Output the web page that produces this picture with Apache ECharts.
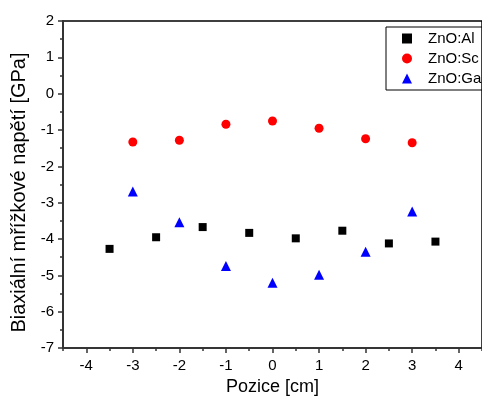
<!DOCTYPE html>
<html>
<head>
<meta charset="utf-8">
<script src="https://cdn.jsdelivr.net/npm/echarts@6/dist/echarts.min.js"></script>
<style>
html,body{margin:0;padding:0;background:#fff;}
#container{width:482px;height:401px;}
</style>
</head>
<body>
<div id="container"></div>
<script>
var posAl=[-3.5,-2.5,-1.5,-0.5,0.5,1.5,2.5,3.5];
var valAl=[-4.27,-3.95,-3.67,-3.83,-3.98,-3.77,-4.12,-4.07];
var posSc=[-3,-2,-1,0,1,2,3];
var valSc=[-1.33,-1.28,-0.84,-0.75,-0.95,-1.24,-1.35];
var posGa=[-3,-2,-1,0,1,2,3];
var valGa=[-2.69,-3.54,-4.74,-5.2,-4.98,-4.35,-3.24];
var names=['ZnO:Al','ZnO:Sc','ZnO:Ga'];
var xMajor=[-4,-3,-2,-1,0,1,2,3,4];
var xMinor=[-4.5,-3.5,-2.5,-1.5,-0.5,0.5,1.5,2.5,3.5,4.5];

function pairs(xs,ys){
	var out=[];
	for(var i=0;i<xs.length;++i){
		out.push([xs[i],ys[i]]);
	}
	return out;
}

var font='Liberation Sans, Arial, sans-serif';
var axisCol='#333';
var myChart=echarts.init(document.getElementById('container'),null,{renderer:'canvas'});
var option={
	animation:false,
	textStyle:{fontFamily:font},
	grid:{left:63,top:21,bottom:47,width:428,show:true,borderColor:'#000',borderWidth:1.5,backgroundColor:'transparent'},
	legend:{
		data:names,
		orient:'vertical',
		left:386,top:27,
		itemWidth:10,itemHeight:10,itemGap:5,
		padding:[4,40,4,16],
		borderColor:'#000',borderWidth:1,
		textStyle:{fontFamily:font,fontSize:15,color:'#000',padding:[0,0,0,11]}
	},
	xAxis:[{
		type:'value',min:-4.5,max:4.5,interval:0.5,position:'bottom',
		name:'Pozice [cm]',nameLocation:'middle',nameGap:29,
		nameTextStyle:{fontFamily:font,fontSize:18,color:'#000'},
		axisLine:{onZero:false,lineStyle:{color:axisCol,width:1.5}},
		axisTick:{inside:false,length:5,customValues:xMajor,lineStyle:{color:axisCol,width:1.5}},
		minorTick:{show:false},
		splitLine:{show:false},
		axisLabel:{fontFamily:font,fontSize:15,color:'#000',margin:10,customValues:xMajor}
	},{
		type:'value',min:-4.5,max:4.5,interval:0.5,position:'bottom',
		axisLine:{show:false,onZero:false},
		axisTick:{show:true,inside:false,length:3,customValues:xMinor,lineStyle:{color:axisCol,width:1.5}},
		axisLabel:{show:false},splitLine:{show:false}
	}],
	yAxis:{
		type:'value',min:-7,max:2,interval:1,
		name:'Biaxiální mřížkové napětí [GPa]',nameLocation:'middle',nameGap:30,
		nameTextStyle:{fontFamily:font,fontSize:20,color:'#000',padding:[0,16,0,0]},
		axisLine:{show:true,onZero:false,lineStyle:{color:axisCol,width:2}},
		axisTick:{show:true,inside:false,length:5,lineStyle:{color:axisCol,width:1.5}},
		minorTick:{show:true,splitNumber:2,length:3,lineStyle:{color:axisCol,width:1.5}},
		splitLine:{show:false},
		axisLabel:{fontFamily:font,fontSize:15,color:'#000',margin:9}
	},
	series:[{
		name:names[0],type:'scatter',symbol:'rect',symbolSize:8,
		itemStyle:{color:'#000',opacity:1},data:pairs(posAl,valAl)
	},{
		name:names[1],type:'scatter',symbol:'circle',symbolSize:9,
		itemStyle:{color:'#ff0000',opacity:1},data:pairs(posSc,valSc)
	},{
		name:names[2],type:'scatter',symbol:'triangle',symbolSize:10,
		itemStyle:{color:'#0000ff',opacity:1},data:pairs(posGa,valGa)
	}]
};
myChart.setOption(option);
</script>
</body>
</html>
